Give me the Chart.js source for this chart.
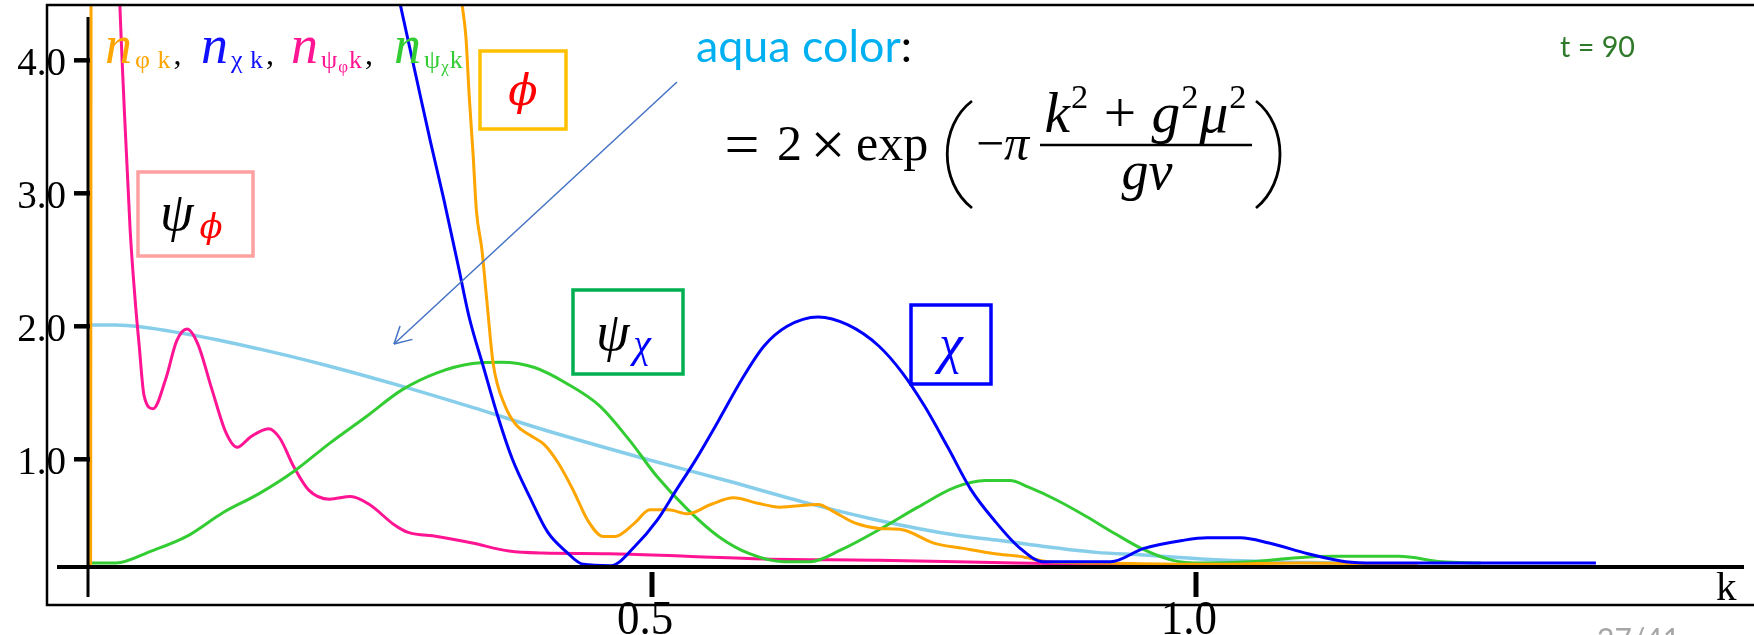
<!DOCTYPE html>
<html>
<head>
<meta charset="utf-8">
<script src="https://cdn.jsdelivr.net/npm/chart.js@4.4.1/dist/chart.umd.min.js"></script>
<style>
  html, body { margin: 0; padding: 0; background: #fff; overflow: hidden; }
  canvas { display: block; }
</style>
</head>
<body>
<canvas id="c" width="1754" height="635"></canvas>
<script>
// Occupation numbers n_k against momentum k at t = 90

// n_phi,k (orange)
const kPhi = [-0.016, -0.015, 0.318, 0.325, 0.329, 0.332, 0.3355, 0.3386, 0.3436, 0.348, 0.354, 0.365, 0.375, 0.388, 0.401, 0.414, 0.428, 0.441, 0.455, 0.466, 0.484, 0.498, 0.515, 0.533, 0.554, 0.575, 0.597, 0.617, 0.653, 0.666, 0.687, 0.709, 0.730, 0.759, 0.786, 0.815, 0.838, 0.864, 0.911, 1.004, 1.096, 1.204];
const nPhi = [0.20, 9.0, 5.0, 4.45, 4.17, 3.73, 3.30, 2.87, 2.58, 2.21, 1.72, 1.40, 1.26, 1.18, 1.11, 0.97, 0.76, 0.54, 0.42, 0.42, 0.52, 0.62, 0.62, 0.59, 0.66, 0.71, 0.67, 0.64, 0.66, 0.61, 0.52, 0.48, 0.47, 0.37, 0.33, 0.29, 0.27, 0.23, 0.22, 0.21, 0.22, 0.21];

// n_chi,k (blue)
const kChi = [0.2484, 0.2678, 0.2831, 0.2963, 0.3085, 0.3223, 0.3319, 0.3452, 0.3584, 0.3717, 0.388, 0.4043, 0.4205, 0.4368, 0.4623, 0.4837, 0.5046, 0.5224, 0.5397, 0.5611, 0.5825, 0.6028, 0.6242, 0.6527, 0.6802, 0.7087, 0.7301, 0.7505, 0.7719, 0.7933, 0.8147, 0.8371, 0.8595, 0.9216, 0.9521, 0.9878, 1.0102, 1.0407, 1.0672, 1.1029, 1.1375, 1.165, 1.3676];
const nChi = [5.2, 4.45, 3.88, 3.39, 2.96, 2.44, 2.07, 1.69, 1.32, 1.0, 0.71, 0.45, 0.31, 0.21, 0.20, 0.34, 0.54, 0.77, 0.99, 1.29, 1.60, 1.85, 2.0, 2.07, 2.01, 1.85, 1.65, 1.40, 1.09, 0.77, 0.54, 0.34, 0.23, 0.23, 0.33, 0.39, 0.41, 0.41, 0.37, 0.29, 0.23, 0.22, 0.22];

// n_psi_phi,k (pink)
const kPsiPhi = [0.002, 0.0101, 0.0152, 0.0203, 0.0254, 0.0285, 0.0331, 0.0414, 0.0529, 0.0631, 0.0727, 0.0824, 0.0957, 0.1084, 0.1186, 0.1313, 0.1476, 0.1578, 0.171, 0.1843, 0.2036, 0.223, 0.2403, 0.2627, 0.2759, 0.3024, 0.335, 0.3686, 0.3992, 0.4603, 0.5315, 0.6028, 0.7087, 0.835, 0.9114, 1.0, 1.0611];
const nPsiPhi = [7.0, 4.6, 3.59, 2.73, 2.15, 1.87, 1.48, 1.38, 1.60, 1.89, 1.98, 1.87, 1.52, 1.20, 1.09, 1.17, 1.23, 1.16, 0.94, 0.77, 0.70, 0.72, 0.66, 0.51, 0.45, 0.42, 0.37, 0.31, 0.295, 0.29, 0.27, 0.25, 0.24, 0.22, 0.21, 0.20, 0.20];

// n_psi_chi,k (green)
const kPsiChi = [-0.0184, 0.0071, 0.0397, 0.0723, 0.1059, 0.1385, 0.171, 0.2036, 0.2372, 0.2698, 0.3024, 0.335, 0.3615, 0.392, 0.4216, 0.4521, 0.4796, 0.5046, 0.5331, 0.5611, 0.5896, 0.6212, 0.6456, 0.6741, 0.7087, 0.7444, 0.779, 0.8065, 0.8289, 0.8462, 0.8727, 0.8992, 0.9257, 0.9521, 0.9786, 1.0051, 1.0499, 1.0937, 1.1293, 1.1864, 1.2261, 1.2617];
const nPsiChi = [0.22, 0.22, 0.31, 0.42, 0.60, 0.74, 0.91, 1.12, 1.32, 1.52, 1.65, 1.72, 1.73, 1.69, 1.57, 1.40, 1.14, 0.87, 0.62, 0.42, 0.29, 0.23, 0.23, 0.32, 0.47, 0.64, 0.79, 0.84, 0.84, 0.79, 0.69, 0.57, 0.44, 0.32, 0.24, 0.22, 0.23, 0.26, 0.27, 0.27, 0.23, 0.22];

// aqua reference curve
const kAqua = [-0.0184, 0.0071, 0.0733, 0.1385, 0.2036, 0.2698, 0.335, 0.4012, 0.4908, 0.5682, 0.6385, 0.7087, 0.779, 0.8197, 0.8646, 0.9083, 0.9521, 1.0051, 1.0672, 1.1293];
const nAqua = [2.01, 2.01, 1.94, 1.83, 1.70, 1.55, 1.39, 1.22, 1.01, 0.84, 0.68, 0.54, 0.43, 0.39, 0.34, 0.30, 0.28, 0.25, 0.23, 0.22];

// axis ticks
const xTicks = [0.5, 1.0];
const xTickLabels = ['0.5', '1.0'];
const yTicks = [1.0, 2.0, 3.0, 4.0];
const yTickLabels = ['1.0', '2.0', '3.0', '4.0'];

const pts = (ks, ns) => ks.map((k, i) => ({ x: k, y: ns[i] }));

const SERIF = '"Liberation Serif", "DejaVu Serif", serif';
const DJV = '"DejaVu Serif", "Liberation Serif", serif';
const SANS = 'Lato, "Open Sans", "Liberation Sans", sans-serif';

function line(ctx, x1, y1, x2, y2, w, color) {
  ctx.strokeStyle = color; ctx.lineWidth = w;
  ctx.beginPath(); ctx.moveTo(x1, y1); ctx.lineTo(x2, y2); ctx.stroke();
}
function text(ctx, s, x, y, font, color, align) {
  ctx.font = font; ctx.fillStyle = color; ctx.textAlign = align || 'left';
  ctx.textBaseline = 'alphabetic'; ctx.fillText(s, x, y);
}
function fitSize(ctx, s, style, family, width) {
  ctx.font = style + ' 100px ' + family;
  return 100 * width / ctx.measureText(s).width;
}

const axesPlugin = {
  id: 'axesAndNotes',
  afterDatasetsDraw(chart) {
    const { ctx, scales: { x, y } } = chart;
    const x0 = x.getPixelForValue(x.min);
    const yb = y.getPixelForValue(y.min);
    ctx.save();
    ctx.lineCap = 'butt';

    // outer frame
    ctx.strokeStyle = '#000'; ctx.lineWidth = 2.5;
    ctx.strokeRect(47, 5, 1760, 600);

    // axes
    line(ctx, 57, yb, x.right, yb, 4, '#000');
    line(ctx, x0, 17, x0, 597, 3, '#000');

    // y ticks + labels
    yTicks.forEach((v, i) => {
      const py = y.getPixelForValue(v);
      line(ctx, 74, py, x0 + 2, py, 4.5, '#000');
      text(ctx, yTickLabels[i], 66, py + 15, '39px ' + SERIF, '#000', 'right');
    });

    // x ticks + labels (tall numerals)
    xTicks.forEach((v, i) => {
      const px = x.getPixelForValue(v);
      line(ctx, px, yb + 5, px, 597, 5, '#000');
      ctx.save();
      ctx.translate(px - 7, 634);
      ctx.scale(1, 1.1);
      text(ctx, xTickLabels[i], 0, 0, '45px ' + SERIF, '#000', 'center');
      ctx.restore();
    });
    text(ctx, 'k', 1716, 600, '41px ' + SERIF, '#000', 'left');
    ctx.restore();
  },
  afterDraw(chart) {
    const { ctx } = chart;
    ctx.save();

    // series legend: n with coloured subscripts
    const legend = [
      { x: 105, color: '#FFA500', sub: [['φ', 1], [' k', 1]] },
      { x: 201, color: '#1010FF', sub: [['χ', 1], [' k', 1]] },
      { x: 291, color: '#FF1493', sub: [['ψ', 1], ['φ', 2], ['k', 1]] },
      { x: 394, color: '#33CC33', sub: [['ψ', 1], ['χ', 2], ['k', 1]] }
    ];
    legend.forEach((it, idx) => {
      text(ctx, 'n', it.x, 63, 'italic 54px ' + SERIF, it.color);
      let cx = it.x + 30;
      it.sub.forEach(([s, lvl]) => {
        const f = (lvl === 1 ? '26px ' : '17px ') + SERIF;
        const by = lvl === 1 ? 68 : 72;
        text(ctx, s, cx, by, f, it.color);
        ctx.font = f;
        cx += ctx.measureText(s).width + 1;
      });
      if (idx < legend.length - 1) text(ctx, ',', cx + 2, 64, '32px ' + SERIF, '#000');
    });

    // labelled boxes
    const boxes = [
      { r: [138, 172, 253, 256], c: '#FFA0A0' },
      { r: [480, 51, 566, 129], c: '#FFC000' },
      { r: [573, 290, 683, 374], c: '#00B050' },
      { r: [911, 305, 991, 384], c: '#0000FF' }
    ];
    boxes.forEach(b => {
      ctx.strokeStyle = b.c; ctx.lineWidth = 3.5;
      ctx.strokeRect(b.r[0], b.r[1], b.r[2] - b.r[0], b.r[3] - b.r[1]);
    });
    text(ctx, 'ψ', 160, 230, 'italic 54px ' + SERIF, '#000');
    text(ctx, 'ϕ', 211, 238, 'italic 34px ' + DJV, '#FF0000', 'center');
    text(ctx, 'ϕ', 523, 105, 'italic 43px ' + DJV, '#FF0000', 'center');
    text(ctx, 'ψ', 596, 350, 'italic 54px ' + SERIF, '#000');
    text(ctx, 'χ', 642, 357, 'italic 40px ' + SERIF, '#0000FF', 'center');
    text(ctx, 'χ', 951, 362, 'italic 54px ' + SERIF, '#0000FF', 'center');

    // pointer to the aqua curve
    const ax1 = 677, ay1 = 82, ax2 = 394, ay2 = 344;
    line(ctx, ax1, ay1, ax2, ay2, 1.5, '#4472C4');
    const ang = Math.atan2(ay1 - ay2, ax1 - ax2);
    [-0.5, 0.5].forEach(d => {
      line(ctx, ax2, ay2, ax2 + 19 * Math.cos(ang + d), ay2 + 19 * Math.sin(ang + d), 1.5, '#4472C4');
    });

    // "aqua color:" caption
    const capSize = fitSize(ctx, 'aqua color:', '', SANS, 216);
    ctx.font = capSize + 'px ' + SANS;
    const wAqua = ctx.measureText('aqua color').width;
    text(ctx, 'aqua color', 696, 62, capSize + 'px ' + SANS, '#00B0F0');
    text(ctx, ':', 696 + wAqua, 62, capSize + 'px ' + SANS, '#000');

    // formula  = 2 × exp( −π (k² + g²μ²)/(gv) )
    const FS = '50px ' + SERIF, FI = 'italic 50px ' + SERIF;
    const BL = 160;
    text(ctx, '=', 742, 165, '62px ' + SERIF, '#000', 'center');
    text(ctx, '2', 777, BL, FS, '#000');
    text(ctx, '×', 828, 165, '62px ' + SERIF, '#000', 'center');
    text(ctx, 'exp', 856, BL, FS, '#000');
    ctx.strokeStyle = '#000'; ctx.lineWidth = 2.8;
    ctx.beginPath(); ctx.moveTo(972, 101);
    ctx.bezierCurveTo(939, 126, 939, 182, 972, 208); ctx.stroke();
    ctx.beginPath(); ctx.moveTo(1256, 101);
    ctx.bezierCurveTo(1288, 126, 1288, 182, 1256, 208); ctx.stroke();
    text(ctx, '−', 976, BL, FS, '#000');
    text(ctx, 'π', 1004, BL, FI, '#000');
    // numerator fitted to the fraction bar
    const num = [['k', 'italic', 1, 0], ['2', '', 0.6, -0.42], [' + ', '', 1, 0], ['g', 'italic', 1, 0], ['2', '', 0.6, -0.42], ['μ', 'italic', 1, 0], ['2', '', 0.6, -0.42]];
    const measureNum = s => num.reduce((w, [t, st, f]) => { ctx.font = st + ' ' + (s * f) + 'px ' + SERIF; return w + ctx.measureText(t).width + 1; }, 0);
    const ns = 100 * 200 / measureNum(100);
    let nx = 1146 - measureNum(ns) / 2;
    num.forEach(([t, st, f, dy]) => {
      const font = st + ' ' + (ns * f) + 'px ' + SERIF;
      text(ctx, t, nx, 132 + dy * ns, font, '#000');
      ctx.font = font; nx += ctx.measureText(t).width + 1;
    });
    line(ctx, 1040, 145, 1252, 145, 2.5, '#000');
    text(ctx, 'gv', 1147, 189, 'italic 54px ' + SERIF, '#000', 'center');

    // time stamp
    const tSize = fitSize(ctx, 't = 90', '', SANS, 75);
    text(ctx, 't = 90', 1560, 57, tSize + 'px ' + SANS, '#2F7A2A');

    // slide page number, clipped by the bottom edge
    text(ctx, '27/41', 1597, 650, '30px ' + SANS, '#A6A6A6');

    ctx.restore();
  }
};

const common = { pointRadius: 0, borderWidth: 3, fill: false, cubicInterpolationMode: 'monotone' };

new Chart(document.getElementById('c'), {
  type: 'line',
  data: {
    datasets: [
      Object.assign({ label: 'aqua', data: pts(kAqua, nAqua), borderColor: '#87CEEB', order: 5 }, common, { borderWidth: 3.5 }),
      Object.assign({ label: 'n_psi_phi', data: pts(kPsiPhi, nPsiPhi), borderColor: '#FF1493', order: 4 }, common),
      Object.assign({ label: 'n_psi_chi', data: pts(kPsiChi, nPsiChi), borderColor: '#33CC33', order: 3 }, common),
      Object.assign({ label: 'n_phi', data: pts(kPhi, nPhi), borderColor: '#FFA500', order: 2 }, common),
      Object.assign({ label: 'n_chi', data: pts(kChi, nChi), borderColor: '#0000FF', order: 1 }, common)
    ]
  },
  options: {
    responsive: false,
    devicePixelRatio: 1,
    animation: false,
    layout: { padding: { left: 88, top: 5, right: 10, bottom: 68 } },
    scales: {
      x: { type: 'linear', min: -0.0184, max: 1.5037, display: false },
      y: { type: 'linear', min: 0.19, max: 4.416, display: false }
    },
    plugins: { legend: { display: false }, tooltip: { enabled: false }, title: { display: false } }
  },
  plugins: [axesPlugin]
});
</script>
</body>
</html>
